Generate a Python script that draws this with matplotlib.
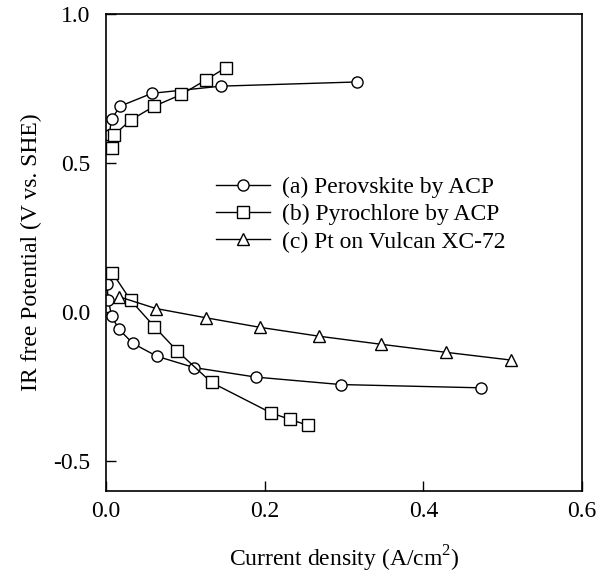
import numpy as np
import matplotlib
matplotlib.use("Agg")
import matplotlib.pyplot as plt

# ── data ─────────────────────────────────────────────────────────
# (a) Perovskite by ACP: upper (cathodic) and lower (anodic) branches
pero_up_x = [0.004, 0.007, 0.018, 0.058, 0.145, 0.316]
pero_up_y = [0.594, 0.648, 0.691, 0.734, 0.758, 0.772]
pero_lo_x = [0.001, 0.003, 0.007, 0.016, 0.034, 0.064, 0.111, 0.189, 0.296, 0.473]
pero_lo_y = [0.094, 0.040, -0.013, -0.057, -0.105, -0.148, -0.186, -0.218, -0.243, -0.254]

# (b) Pyrochlore by ACP
pyro_up_x = [0.007, 0.010, 0.031, 0.061, 0.095, 0.126, 0.151]
pyro_up_y = [0.549, 0.594, 0.644, 0.691, 0.730, 0.779, 0.820]
pyro_lo_x = [0.008, 0.031, 0.061, 0.090, 0.133, 0.208, 0.232, 0.255]
pyro_lo_y = [0.132, 0.040, -0.049, -0.131, -0.236, -0.338, -0.360, -0.380]

# (c) Pt on Vulcan XC-72
pt_x = [0.017, 0.063, 0.126, 0.194, 0.269, 0.347, 0.429, 0.511]
pt_y = [0.051, 0.012, -0.019, -0.051, -0.081, -0.108, -0.135, -0.161]

labels = ["(a) Perovskite by ACP", "(b) Pyrochlore by ACP", "(c) Pt on Vulcan XC-72"]

plt.rcParams["font.family"] = ["Liberation Serif", "DejaVu Serif"]
plt.rcParams["axes.unicode_minus"] = False
plt.rcParams["mathtext.fontset"] = "custom"
plt.rcParams["mathtext.rm"] = "Liberation Serif"

FS = 17

fig = plt.figure(figsize=(6.12, 5.76), dpi=100)
ax = fig.add_axes([0.1732, 0.1476, 0.7778, 0.8281])

style = dict(color="black", linewidth=1.0, markersize=8,
             markerfacecolor="white", markeredgecolor="black",
             markeredgewidth=1.0)

ax.plot(pero_up_x, pero_up_y, marker="o", label=labels[0], **style)
ax.plot(pero_lo_x, pero_lo_y, marker="o", **style)
ax.plot(pyro_up_x, pyro_up_y, marker="s", label=labels[1], **style)
ax.plot(pyro_lo_x, pyro_lo_y, marker="s", **style)
ax.plot(pt_x, pt_y, marker="^", label=labels[2], **style)

ax.set_xlim(0.0, 0.6)
ax.set_ylim(-0.6, 1.0)
ax.set_xticks([0.0, 0.2, 0.4, 0.6])
ax.set_yticks([-0.5, 0.0, 0.5, 1.0])
ax.set_xticklabels(["0.0", "0.2", "0.4", "0.6"])
ax.set_yticklabels(["-0.5", "0.0", "0.5", "1.0"])
ax.tick_params(axis="both", direction="in", length=7, width=1.0,
               labelsize=FS, top=False, right=False)
ax.tick_params(axis="x", pad=7)
ax.tick_params(axis="y", pad=11)
for sp in ax.spines.values():
    sp.set_linewidth(1.2)

ax.set_xlabel("Current density (A/cm$^2$)", fontsize=FS, labelpad=16)
ax.set_ylabel("IR free Potential (V vs. SHE)", fontsize=FS, labelpad=8)

ax.legend(loc="upper left", bbox_to_anchor=(0.353, 0.694),
          bbox_transform=fig.transFigure, frameon=False, fontsize=FS,
          handlelength=2.3, handletextpad=0.5, labelspacing=0.25,
          borderpad=0.0, borderaxespad=0.0)

fig.savefig("out.png", dpi=100)
